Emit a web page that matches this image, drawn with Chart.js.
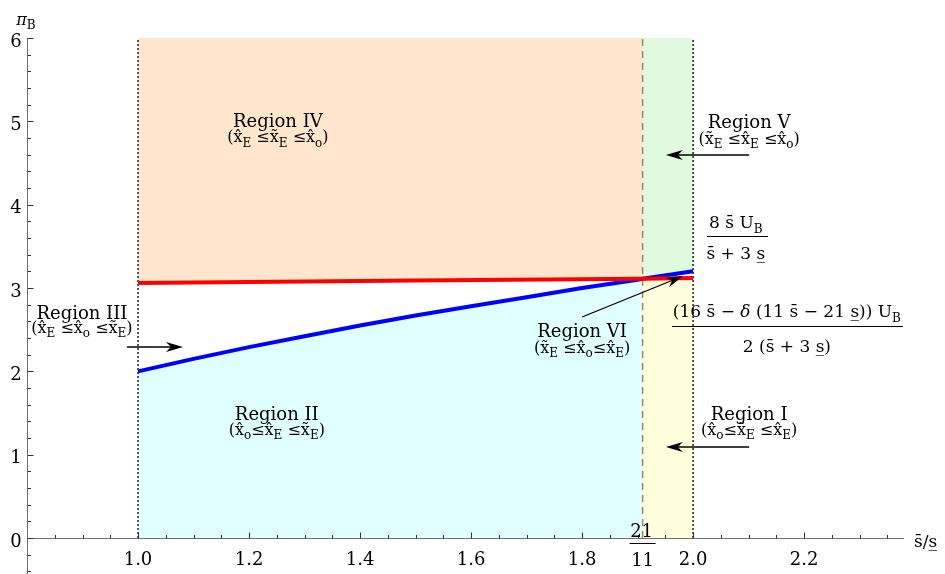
<!DOCTYPE html>
<html>
<head>
<meta charset="utf-8">
<script src="https://cdn.jsdelivr.net/npm/chart.js@4.4.0/dist/chart.umd.min.js"></script>
<style>
html, body { margin: 0; padding: 0; background: #fff; }
#wrap { width: 945px; height: 574px; position: relative; }
</style>
</head>
<body>
<div id="wrap"><canvas id="chart"></canvas></div>
<script>
// valores (pi_B em função de s̄/s̲)
const xSplit = 21 / 11;
const ratioBlue = [1.0, 1.1, 1.2, 1.3, 1.4, 1.5, 1.6, 1.7, 1.8, 1.9, xSplit, 2.0];
const piBlue = [2.0, 2.15, 2.29, 2.42, 2.55, 2.67, 2.78, 2.89, 3.0, 3.10, 3.11, 3.2];
const ratioRed = [1.0, 1.5, xSplit, 2.0];
const piRed = [3.06, 3.09, 3.11, 3.12];
const yTop = 6;

// ticks
const xTicks = [1.0, 1.2, 1.4, 1.6, 1.8, 2.0, 2.2];
const xTickLabels = ['1.0', '1.2', '1.4', '1.6', '1.8', '2.0', '2.2'];
const yTicks = [0, 1, 2, 3, 4, 5, 6];
const yTickLabels = ['0', '1', '2', '3', '4', '5', '6'];

const FONT = '"DejaVu Serif", serif';

// pontos entre dois valores de x
function pts(xs, ys, from, to) {
    return xs.map((x, i) => ({ x: x, y: ys[i] }))
        .filter(p => p.x >= from - 1e-9 && p.x <= to + 1e-9);
}
function closed(list) { return list.concat([list[0]]); }

const regionII = closed([...pts(ratioBlue, piBlue, 1, xSplit), { x: xSplit, y: 0 }, { x: 1, y: 0 }]);
const regionIV = closed([...pts(ratioRed, piRed, 1, xSplit), { x: xSplit, y: yTop }, { x: 1, y: yTop }]);
const regionV = closed([...pts(ratioBlue, piBlue, xSplit, 2), { x: 2, y: yTop }, { x: xSplit, y: yTop }]);
const regionI = closed([...pts(ratioRed, piRed, xSplit, 2), { x: 2, y: 0 }, { x: xSplit, y: 0 }]);

function regionSet(data, color) {
    return { data: data, showLine: true, fill: 'shape', backgroundColor: color,
        borderWidth: 0, pointRadius: 0 };
}
function vline(x, color, dash, width) {
    return { data: [{ x: x, y: 0 }, { x: x, y: yTop }], showLine: true, fill: false,
        borderColor: color, borderDash: dash, borderWidth: width, pointRadius: 0 };
}

// textos com subscritos: [texto, 's' subscrito | 'i' itálico | '']
const sub = t => [t, 's'];
const regionLabels = [
    { x: 1.252, yt: 4.93, ys: 4.75, title: 'Region IV',
      runs: [['(x\u0302'], sub('E'), [' \u2264x\u0303'], sub('E'), [' \u2264x\u0302'], sub('o'), [')']] },
    { x: 2.101, yt: 4.92, ys: 4.73, title: 'Region V',
      runs: [['(x\u0303'], sub('E'), [' \u2264x\u0302'], sub('E'), [' \u2264x\u0302'], sub('o'), [')']] },
    { x: 0.899, yt: 2.63, ys: 2.46, title: 'Region III',
      runs: [['(x\u0302'], sub('E'), [' \u2264x\u0302'], sub('o'), [' \u2264x\u0303'], sub('E'), [')']] },
    { x: 1.800, yt: 2.41, ys: 2.22, title: 'Region VI',
      runs: [['(x\u0303'], sub('E'), [' \u2264x\u0302'], sub('o'), ['\u2264x\u0302'], sub('E'), [')']] },
    { x: 1.250, yt: 1.42, ys: 1.24, title: 'Region II',
      runs: [['(x\u0302'], sub('o'), ['\u2264x\u0302'], sub('E'), [' \u2264x\u0303'], sub('E'), [')']] },
    { x: 2.101, yt: 1.42, ys: 1.24, title: 'Region I',
      runs: [['(x\u0302'], sub('o'), ['\u2264x\u0303'], sub('E'), [' \u2264x\u0302'], sub('E'), [')']] }
];

// setas: cauda -> ponta
const arrows = [
    [0.980, 2.292, 1.081, 2.292],
    [2.101, 4.596, 1.951, 4.596],
    [2.101, 1.092, 1.951, 1.092],
    [1.800, 2.652, 1.982, 3.144]
];

// frações
const fractions = [
    { x: 2.077, yn: 3.72, yb: 3.624, yd: 3.35, x1: 2.025, x2: 2.135,
      num: [['8 s\u0304 U'], sub('B')], den: [['s\u0304 + 3 s\u0332']] },
    { x: 2.169, yn: 2.652, yb: 2.544, yd: 2.232, x1: 1.962, x2: 2.378,
      num: [['(16 s\u0304 \u2212 '], ['\u03b4', 'i'], [' (11 s\u0304 \u2212 21 s\u0332)) U'], sub('B')],
      den: [['2 (s\u0304 + 3 s\u0332)']] }
];

function runFont(type, size) {
    if (type === 's') return Math.round(size * 0.72) + 'px ' + FONT;
    if (type === 'i') return 'italic ' + size + 'px ' + FONT;
    return size + 'px ' + FONT;
}
function drawRuns(ctx, runs, cx, base, size) {
    let w = 0;
    runs.forEach(r => { ctx.font = runFont(r[1], size); w += ctx.measureText(r[0]).width; });
    let x = cx - w / 2;
    ctx.textAlign = 'left';
    ctx.textBaseline = 'alphabetic';
    runs.forEach(r => {
        ctx.font = runFont(r[1], size);
        const dy = r[1] === 's' ? size * 0.28 : 0;
        ctx.fillText(r[0], x, base + dy);
        x += ctx.measureText(r[0]).width;
    });
}
function drawArrow(ctx, x1, y1, x2, y2) {
    const ang = Math.atan2(y2 - y1, x2 - x1);
    const len = 17, half = 5, notch = 12;
    ctx.beginPath();
    ctx.moveTo(x1, y1);
    ctx.lineTo(x2 - Math.cos(ang) * notch, y2 - Math.sin(ang) * notch);
    ctx.stroke();
    ctx.save();
    ctx.translate(x2, y2);
    ctx.rotate(ang);
    ctx.beginPath();
    ctx.moveTo(0, 0);
    ctx.lineTo(-len, -half);
    ctx.lineTo(-notch, 0);
    ctx.lineTo(-len, half);
    ctx.closePath();
    ctx.fill();
    ctx.restore();
}

const overlay = {
    id: 'overlay',
    afterDatasetsDraw(chart) {
        const ctx = chart.ctx;
        const xs = chart.scales.x, ys = chart.scales.y;
        const px = v => xs.getPixelForValue(v);
        const py = v => ys.getPixelForValue(v);
        ctx.save();

        // eixos
        const ax = Math.round(px(xs.min)) + 0.5;
        const ay = Math.round(py(0)) + 0.5;
        ctx.strokeStyle = '#707070';
        ctx.lineWidth = 1;
        ctx.beginPath();
        ctx.moveTo(ax, ay); ctx.lineTo(px(xs.max), ay);
        ctx.moveTo(ax, py(ys.min)); ctx.lineTo(ax, py(yTop));
        ctx.stroke();

        // marcas menores e maiores
        ctx.strokeStyle = '#333';
        ctx.beginPath();
        for (let i = 17; i <= 47; i++) {
            const v = i * 0.05;
            const major = i % 4 === 0;
            const x = Math.round(px(v)) + 0.5;
            ctx.moveTo(x, ay); ctx.lineTo(x, ay - (major ? 6 : 3.5));
        }
        for (let i = -2; i <= 30; i++) {
            const v = i * 0.2;
            const major = i % 5 === 0;
            const y = Math.round(py(v)) + 0.5;
            ctx.moveTo(ax, y); ctx.lineTo(ax + (major ? 6 : 3.5), y);
        }
        ctx.stroke();

        // rótulos dos ticks
        ctx.fillStyle = '#000';
        ctx.font = '18px ' + FONT;
        ctx.textBaseline = 'alphabetic';
        ctx.textAlign = 'center';
        xTicks.forEach((v, i) => ctx.fillText(xTickLabels[i], px(v), ay + 26));
        yTicks.forEach((v, i) => ctx.fillText(yTickLabels[i], 16, py(v) + 8.5));

        // fração 21/11 no eixo x
        const xs21 = px(xSplit);
        ctx.fillText('21', xs21 - 1, ay - 2);
        ctx.fillText('11', xs21, ay + 27);
        ctx.strokeStyle = '#000';
        ctx.beginPath();
        ctx.moveTo(xs21 - 13, ay + 5); ctx.lineTo(xs21 + 13, ay + 5);
        ctx.stroke();

        // títulos dos eixos
        drawRuns(ctx, [['\u03c0', 'i'], sub('B')], 26, 25, 16);
        ctx.textAlign = 'left';
        ctx.font = '17px ' + FONT;
        ctx.fillText('s\u0304/s\u0332', 914, ay + 8);

        // regiões
        regionLabels.forEach(r => {
            ctx.textAlign = 'center';
            ctx.font = '18px ' + FONT;
            ctx.fillText(r.title, px(r.x), py(r.yt));
            drawRuns(ctx, r.runs, px(r.x), py(r.ys), 16);
        });

        // frações das curvas
        fractions.forEach(f => {
            drawRuns(ctx, f.num, px(f.x), py(f.yn), 17);
            drawRuns(ctx, f.den, px(f.x), py(f.yd), 17);
            ctx.strokeStyle = '#000';
            ctx.lineWidth = 1;
            ctx.beginPath();
            const yb = Math.round(py(f.yb)) + 0.5;
            ctx.moveTo(px(f.x1), yb); ctx.lineTo(px(f.x2), yb);
            ctx.stroke();
        });

        // setas
        ctx.strokeStyle = '#000';
        ctx.fillStyle = '#000';
        ctx.lineWidth = 1.3;
        arrows.forEach(a => drawArrow(ctx, px(a[0]), py(a[1]), px(a[2]), py(a[3])));

        ctx.restore();
    }
};

new Chart(document.getElementById('chart').getContext('2d'), {
    type: 'scatter',
    data: {
        datasets: [
            { data: pts(ratioRed, piRed, 1, 2), showLine: true, fill: false,
              borderColor: '#ff0000', borderWidth: 4, pointRadius: 0 },
            { data: pts(ratioBlue, piBlue, 1, 2), showLine: true, fill: false,
              borderColor: '#0000ff', borderWidth: 4, pointRadius: 0 },
            vline(1, '#000', [2, 2], 1.3),
            vline(2, '#000', [2, 2], 1.3),
            vline(xSplit, '#a8845e', [7, 5], 1.5),
            regionSet(regionII, '#e0ffff'),
            regionSet(regionIV, '#ffe6cc'),
            regionSet(regionV, '#dffadf'),
            regionSet(regionI, '#ffffdc')
        ]
    },
    options: {
        responsive: true,
        maintainAspectRatio: false,
        animation: false,
        layout: { padding: { left: 27, right: 41, top: 38, bottom: 0 } },
        plugins: { legend: { display: false }, tooltip: { enabled: false } },
        scales: {
            x: { type: 'linear', min: 0.8, max: 2.38, display: false },
            y: { type: 'linear', min: -0.432, max: 6, display: false }
        }
    },
    plugins: [overlay]
});
</script>
</body>
</html>
